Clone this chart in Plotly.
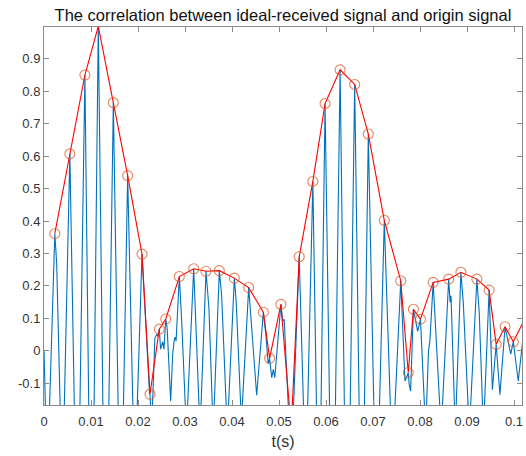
import plotly.graph_objects as go

# Red peak markers (t in seconds, value)
peak_t = [0.0023, 0.0055, 0.0087, 0.01155, 0.01475, 0.0178, 0.02085, 0.02255, 0.02453, 0.0259,
          0.0288, 0.03185, 0.03447, 0.0373, 0.0405, 0.04355, 0.04667, 0.0480, 0.0504, 0.0526,
          0.0543, 0.0572, 0.0598, 0.0630, 0.0661, 0.0690, 0.0724, 0.0759, 0.0775, 0.0786,
          0.0801, 0.0828, 0.0861, 0.0887, 0.0921, 0.0947, 0.0962, 0.0981, 0.09985, 0.1027]
peak_v = [0.361, 0.607, 0.850, 1.0, 0.765, 0.540, 0.298, -0.134, 0.067, 0.098,
          0.229, 0.253, 0.245, 0.247, 0.224, 0.195, 0.119, -0.023, 0.143, -0.24,
          0.290, 0.522, 0.762, 0.866, 0.821, 0.668, 0.402, 0.216, -0.067, 0.128,
          0.0975, 0.211, 0.221, 0.242, 0.221, 0.187, 0.020, 0.074, 0.028, 0.11]

# Blue correlation signal (vertices)
sig_t = [0.0, 0.0007, 0.0023, 0.0027, 0.0039, 0.0055, 0.0071, 0.0087, 0.0101, 0.01155,
         0.0131, 0.01475, 0.0163, 0.0178, 0.0193, 0.02085, 0.02245, 0.02255, 0.0229, 0.0236,
         0.0240, 0.0242, 0.02453, 0.0248, 0.02525, 0.02553, 0.0259, 0.0262, 0.02695, 0.02738,
         0.02773, 0.0279, 0.0281, 0.0288, 0.0293, 0.0303, 0.03185, 0.0332, 0.03447, 0.0349,
         0.0351, 0.0360, 0.0373, 0.0378, 0.0390, 0.0405, 0.0409, 0.0420, 0.04355, 0.04525,
         0.04667, 0.0472, 0.0477, 0.0480, 0.04845, 0.0488, 0.0491, 0.0504, 0.0508, 0.0511,
         0.0520, 0.0524, 0.0526, 0.0528, 0.0543, 0.0557, 0.0572, 0.0585, 0.0598, 0.0614,
         0.0630, 0.0645, 0.0661, 0.0676, 0.0690, 0.0707, 0.0724, 0.0741, 0.0759, 0.0768,
         0.0772, 0.0775, 0.0777, 0.0780, 0.0786, 0.0793, 0.0795, 0.0801, 0.0812, 0.0818,
         0.0821, 0.0828, 0.0845, 0.0861, 0.0864, 0.0866, 0.0875, 0.0887, 0.0892, 0.0905,
         0.0921, 0.0926, 0.0935, 0.0947, 0.0954, 0.0962, 0.0970, 0.0981, 0.0993, 0.09985,
         0.1004, 0.1009, 0.1020]
sig_v = [0.0, -0.40, 0.361, 0.27, -0.45, 0.607, -0.70, 0.850, -0.90, 1.0,
         -0.85, 0.765, -0.65, 0.540, -0.42, 0.298, -0.13, -0.134, -0.24, 0.04,
         0.05, 0.045, 0.067, 0.005, 0.028, 0.005, 0.098, 0.07, -0.155, -0.01,
         0.036, 0.042, 0.03, 0.229, 0.09, -0.25, 0.253, -0.25, 0.245, 0.16,
         0.13, -0.25, 0.247, 0.17, -0.25, 0.224, 0.15, -0.22, 0.195, -0.137,
         0.119, 0.05, -0.04, -0.023, -0.083, -0.057, -0.083, 0.143, 0.092, 0.097,
         -0.20, -0.30, -0.24, -0.28, 0.290, -0.42, 0.522, -0.65, 0.762, -0.80,
         0.866, -0.85, 0.821, -0.75, 0.668, -0.55, 0.402, -0.35, 0.216, -0.093,
         -0.08, -0.067, -0.104, -0.124, 0.128, 0.077, 0.06, 0.0975, -0.25, 0.0,
         0.03, 0.211, -0.25, 0.221, 0.15, 0.17, -0.25, 0.242, 0.15, -0.25,
         0.221, 0.118, -0.25, 0.187, -0.12, 0.020, -0.135, 0.074, -0.01, 0.028,
         -0.04, -0.093, 0.05]

x_ticks = [0, 0.01, 0.02, 0.03, 0.04, 0.05, 0.06, 0.07, 0.08, 0.09, 0.1]
x_labels = ["0", "0.01", "0.02", "0.03", "0.04", "0.05", "0.06", "0.07", "0.08", "0.09", "0.1"]
y_ticks = [-0.1, 0, 0.1, 0.2, 0.3, 0.4, 0.5, 0.6, 0.7, 0.8, 0.9]
y_labels = ["-0.1", "0", "0.1", "0.2", "0.3", "0.4", "0.5", "0.6", "0.7", "0.8", "0.9"]

X_RANGE = [0, 0.1017]
Y_RANGE = [-0.167, 0.998]

font_family = "Liberation Sans, Arial, sans-serif"

# markers whose centre lies outside the axes are not drawn (MATLAB-style clipping)
marker_sizes = [10 if (Y_RANGE[0] <= v <= Y_RANGE[1] and X_RANGE[0] <= t <= X_RANGE[1]) else 0
                for t, v in zip(peak_t, peak_v)]

fig = go.Figure()
fig.add_trace(go.Scatter(x=sig_t, y=sig_v, mode="lines",
                         line=dict(color="#0072BD", width=1.1), showlegend=False))
fig.add_trace(go.Scatter(x=peak_t, y=peak_v, mode="lines+markers",
                         line=dict(color="#FF0000", width=1.1),
                         marker=dict(symbol="circle-open", size=marker_sizes, color="#D95319",
                                     line=dict(width=1.1)),
                         showlegend=False))

axis_common = dict(showgrid=False, zeroline=False, showline=True, mirror="ticks",
                   linecolor="#8a8a8a", linewidth=1, ticks="inside", ticklen=5,
                   tickcolor="#8a8a8a", tickfont=dict(family=font_family, size=13, color="#333333"))

fig.update_xaxes(range=X_RANGE, tickvals=x_ticks, ticktext=x_labels, ticklabelstandoff=4,
                 title=dict(text="t(s)", font=dict(family=font_family, size=16, color="#333333"),
                            standoff=8),
                 **axis_common)
fig.update_yaxes(range=Y_RANGE, tickvals=y_ticks, ticktext=y_labels, **axis_common)

fig.update_layout(
    width=526, height=456,
    margin=dict(l=44, r=4, t=27, b=51),
    paper_bgcolor="white", plot_bgcolor="white",
    title=dict(text="The correlation between ideal-received signal and origin signal",
               font=dict(family=font_family, size=16.5, color="#111111"),
               x=0.538, xanchor="center", y=0.967, yanchor="middle"),
)

fig.write_html("out.html")
